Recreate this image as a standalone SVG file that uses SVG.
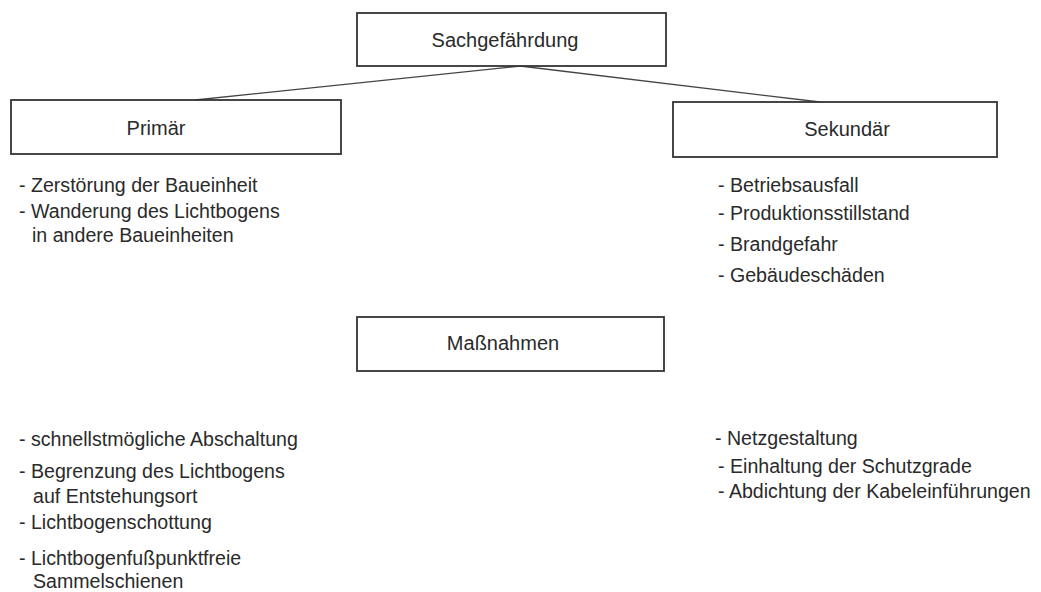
<svg xmlns="http://www.w3.org/2000/svg" width="1041" height="592" viewBox="0 0 1041 592">
<style>
.box{fill:#fff;stroke:#333;stroke-width:1.8}
.con{stroke:#444;stroke-width:1.3;fill:none}
text{font-family:"Liberation Sans",Arial,sans-serif;font-size:19.6px;fill:#2a2a2a}
.c{text-anchor:middle;font-size:20px}
</style>
<rect width="1041" height="592" fill="#fff"/>
<g id="connectors">
<line class="con" x1="520" y1="66" x2="195" y2="100"/>
<line class="con" x1="520" y1="66" x2="820" y2="102"/>
</g>
<g id="sachgefaehrdung">
<rect class="box" x="357" y="13" width="309" height="53"/>
<text class="c" x="505" y="47">Sachgefährdung</text>
</g>
<g id="primaer">
<rect class="box" x="11" y="100" width="330" height="54"/>
<text class="c" x="156" y="135">Primär</text>
</g>
<g id="sekundaer">
<rect class="box" x="673" y="102" width="324" height="55"/>
<text class="c" x="847" y="136">Sekundär</text>
</g>
<g id="massnahmen">
<rect class="box" x="357" y="317" width="307" height="54"/>
<text class="c" x="503" y="350">Maßnahmen</text>
</g>
<g id="primaer-list">
<text x="19" y="192">- Zerstörung der Baueinheit</text>
<text x="19" y="218">- Wanderung des Lichtbogens</text>
<text x="32" y="242">in andere Baueinheiten</text>
</g>
<g id="sekundaer-list">
<text x="718" y="192">- Betriebsausfall</text>
<text x="718" y="220">- Produktionsstillstand</text>
<text x="718" y="251">- Brandgefahr</text>
<text x="718" y="282">- Gebäudeschäden</text>
</g>
<g id="massnahmen-left">
<text x="19" y="446">- schnellstmögliche Abschaltung</text>
<text x="19" y="478">- Begrenzung des Lichtbogens</text>
<text x="33" y="503">auf Entstehungsort</text>
<text x="19" y="529">- Lichtbogenschottung</text>
<text x="19" y="565">- Lichtbogenfußpunktfreie</text>
<text x="33" y="588">Sammelschienen</text>
</g>
<g id="massnahmen-right">
<text x="715" y="445">- Netzgestaltung</text>
<text x="718" y="473">- Einhaltung der Schutzgrade</text>
<text x="718" y="498">- Abdichtung der Kabeleinführungen</text>
</g>
</svg>
